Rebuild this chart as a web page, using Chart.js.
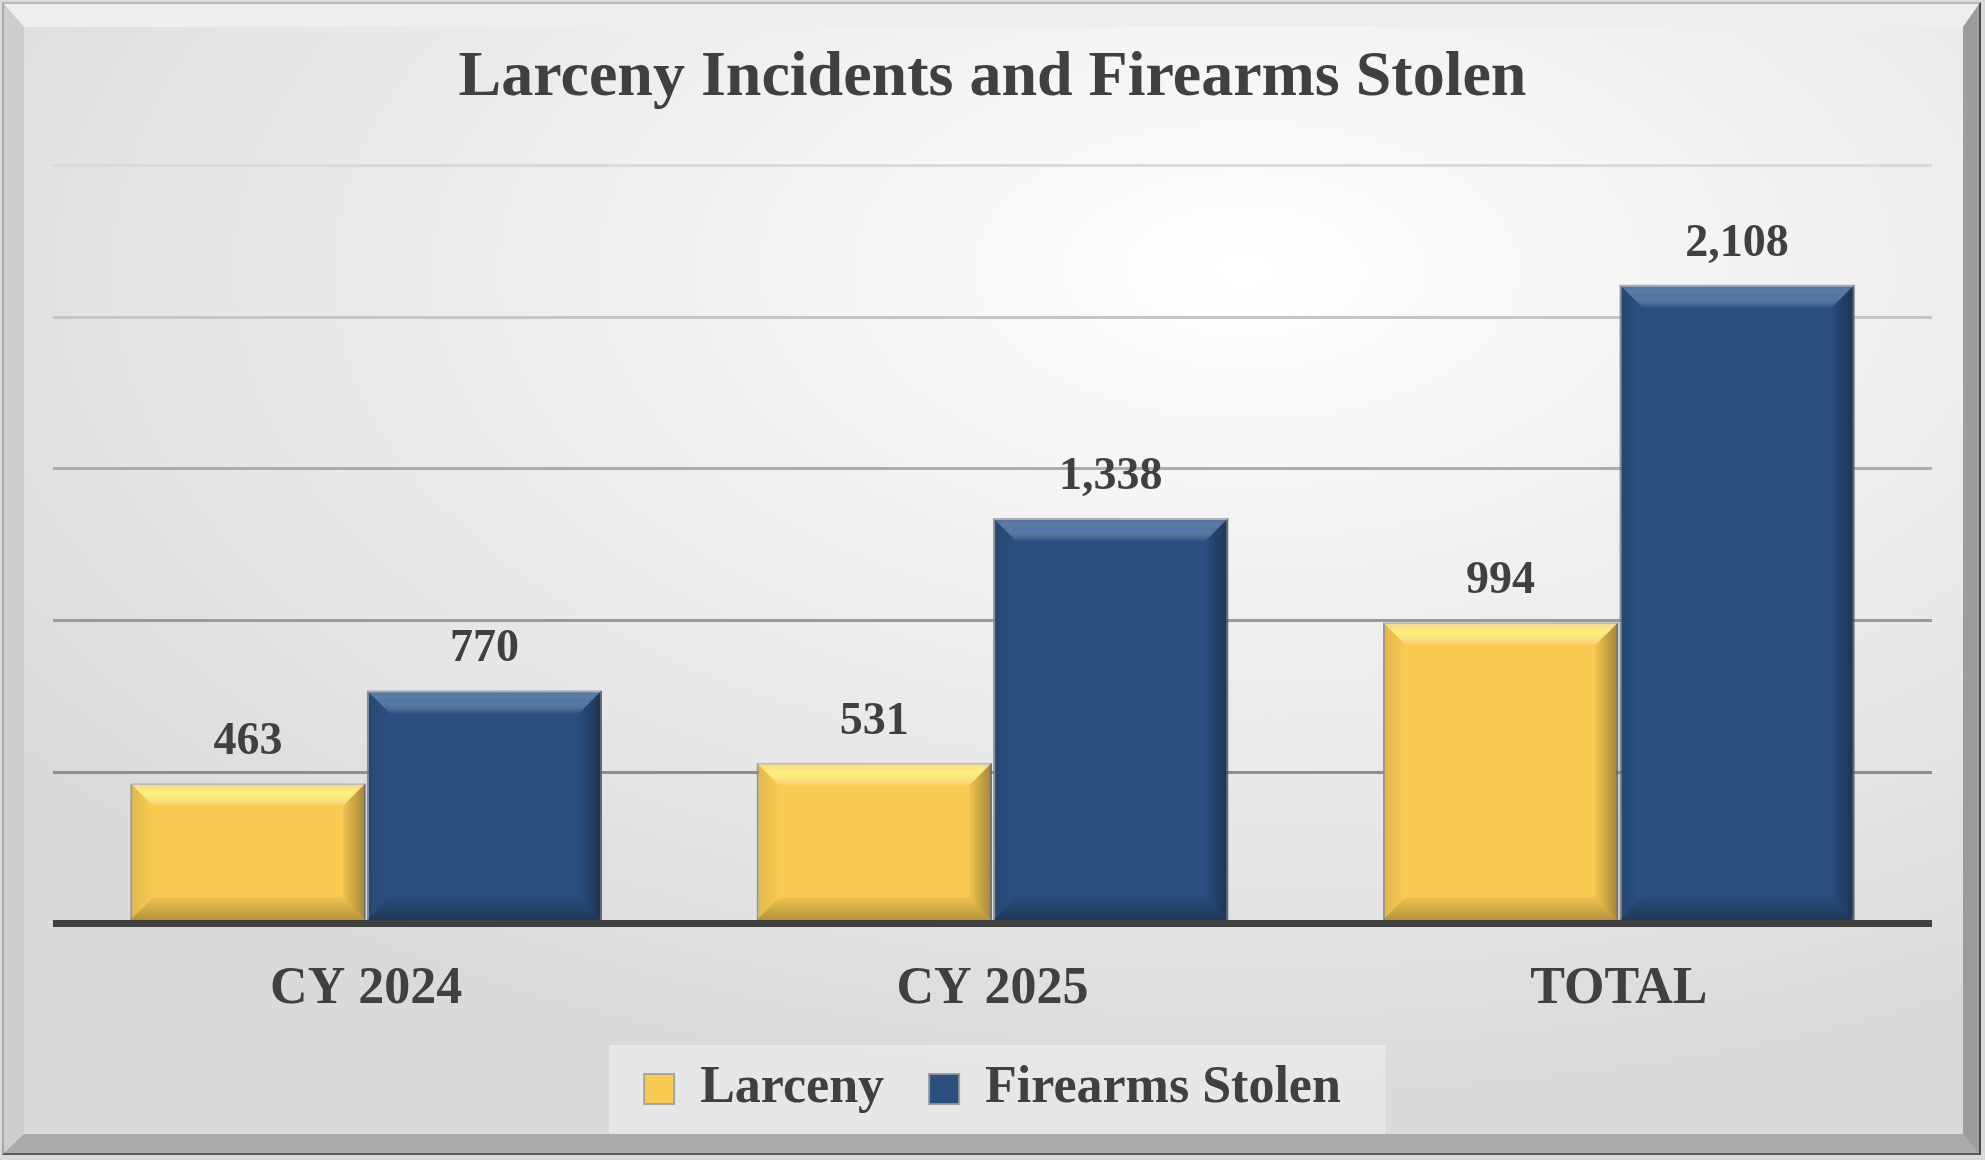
<!DOCTYPE html>
<html>
<head>
<meta charset="utf-8">
<script src="https://cdn.jsdelivr.net/npm/chart.js@4.4.1/dist/chart.umd.min.js"></script>
<style>
    html, body { margin: 0; padding: 0; background: #dadada; }
    #wrap { position: relative; width: 1985px; height: 1160px; overflow: hidden; }
    #frame {
        position: absolute; left: 2px; top: 2px; width: 1979px; height: 1153px;
        box-sizing: border-box; border: 2px solid; border-color: #b8b8b8 #4a4a4a #5a5a5a #a8a8a8;
    }
    #bevel {
        position: absolute; left: 0; top: 0; right: 0; bottom: 0; box-sizing: border-box;
        border-style: solid; border-width: 23px 16px 19px 20px;
        border-color: #eeeeee #9c9c9c #ababab #cdcdcd;
        background: radial-gradient(ellipse 78% 75% at 63% 22%, #ffffff 0%, #f2f2f2 35%, #e6e6e6 70%, #dadada 100%);
    }
    canvas { position: absolute; left: 0; top: 0; }
</style>
</head>
<body>
<div id="wrap">
    <div id="frame"><div id="bevel"></div></div>
    <canvas id="chart" width="1985" height="1160"></canvas>
</div>
<script>
    // ===== DATA =====
    const categories = ['CY 2024', 'CY 2025', 'TOTAL'];
    const larceny = [463, 531, 994];
    const firearmsStolen = [770, 1338, 2108];
    const seriesNames = ['Larceny', 'Firearms Stolen'];
    const yMax = 2500;
    const yStep = 500;

    const FONT = '"Liberation Serif", "Times New Roman", serif';
    const TEXT = '#404040';

    // grid colour per value: darker near the base, fading toward the top
    const gridColors = { 0: '#404040', 500: '#8e8e8e', 1000: '#9a9a9a', 1500: '#acacac', 2000: '#c6c6c6', 2500: '#dadada' };

    function poly(ctx, pts, fill) {
        ctx.beginPath();
        ctx.moveTo(pts[0][0], pts[0][1]);
        for (let i = 1; i < pts.length; i++) ctx.lineTo(pts[i][0], pts[i][1]);
        ctx.closePath();
        ctx.fillStyle = fill;
        ctx.fill();
    }

    /** Bevel shading on a rectangle (bar element) */
    function drawBevel(ctx, l, t, r, b, stripe, maxSize) {
        const s = Math.min(maxSize, (r - l) / 4, (b - t) / 3);
        let g = ctx.createLinearGradient(0, t, 0, t + s);
        g.addColorStop(0, 'rgba(255,255,255,0.15)');
        g.addColorStop(0.45, stripe);
        g.addColorStop(1, 'rgba(255,255,255,0.03)');
        poly(ctx, [[l, t], [r, t], [r - s, t + s], [l + s, t + s]], g);

        g = ctx.createLinearGradient(r - s, 0, r, 0);
        g.addColorStop(0, 'rgba(0,0,0,0.03)');
        g.addColorStop(1, 'rgba(0,0,0,0.35)');
        poly(ctx, [[r, t], [r, b], [r - s, b - s], [r - s, t + s]], g);

        g = ctx.createLinearGradient(0, b - s, 0, b);
        g.addColorStop(0, 'rgba(0,0,0,0.04)');
        g.addColorStop(1, 'rgba(0,0,0,0.28)');
        poly(ctx, [[l, b], [r, b], [r - s, b - s], [l + s, b - s]], g);

        g = ctx.createLinearGradient(l, 0, l + s, 0);
        g.addColorStop(0, 'rgba(0,0,0,0.10)');
        g.addColorStop(1, 'rgba(0,0,0,0.0)');
        poly(ctx, [[l, t], [l, b], [l + s, b - s], [l + s, t + s]], g);
    }

    const stripes = ['rgba(255,248,120,0.85)', 'rgba(110,150,200,0.55)'];

    const barBevel = {
        id: 'barBevel',
        afterDatasetsDraw(chart) {
            const ctx = chart.ctx;
            ctx.save();
            chart.data.datasets.forEach((ds, i) => {
                chart.getDatasetMeta(i).data.forEach(bar => {
                    drawBevel(ctx, bar.x - bar.width / 2, bar.y, bar.x + bar.width / 2, bar.base, stripes[i], 23);
                });
            });
            ctx.restore();
        }
    };

    const valueLabels = {
        id: 'valueLabels',
        afterDatasetsDraw(chart) {
            const ctx = chart.ctx;
            ctx.save();
            ctx.font = 'bold 46px ' + FONT;
            ctx.fillStyle = TEXT;
            ctx.textAlign = 'center';
            ctx.textBaseline = 'alphabetic';
            chart.data.datasets.forEach((ds, i) => {
                chart.getDatasetMeta(i).data.forEach((bar, j) => {
                    ctx.fillText(ds.data[j].toLocaleString('en-US'), bar.x, bar.y - 29);
                });
            });
            ctx.restore();
        }
    };

    const legendPanel = {
        id: 'legendPanel',
        beforeDraw(chart) {
            const boxes = chart.legend && chart.legend.legendHitBoxes;
            if (!boxes || !boxes.length) return;
            const first = boxes[0], last = boxes[boxes.length - 1];
            const ctx = chart.ctx;
            ctx.save();
            ctx.fillStyle = 'rgba(255,255,255,0.35)';
            ctx.fillRect(first.left - 35, first.top - 18,
                last.left + last.width + 45 - (first.left - 35), first.height + 37);
            ctx.restore();
        }
    };

    new Chart(document.getElementById('chart'), {
        type: 'bar',
        data: {
            labels: categories,
            datasets: [{
                label: seriesNames[0],
                data: larceny,
                backgroundColor: '#f9cb52',
                borderColor: 'rgba(160,160,160,0.9)',
                borderWidth: 2,
                categoryPercentage: 0.755,
                barPercentage: 0.995
            }, {
                label: seriesNames[1],
                data: firearmsStolen,
                backgroundColor: '#2a4f7f',
                borderColor: 'rgba(150,150,150,0.9)',
                borderWidth: 2,
                categoryPercentage: 0.755,
                barPercentage: 0.995
            }]
        },
        options: {
            responsive: false,
            animation: false,
            devicePixelRatio: 1,
            layout: { padding: { left: 53, right: 53, top: 20, bottom: 35 } },
            plugins: {
                title: {
                    display: true,
                    text: 'Larceny Incidents and Firearms Stolen',
                    color: TEXT,
                    font: { family: FONT, size: 64, weight: 'bold' },
                    padding: { top: 20, bottom: 49 }
                },
                legend: {
                    position: 'bottom',
                    labels: {
                        color: TEXT,
                        font: { family: FONT, size: 52, weight: 'bold' },
                        boxWidth: 30,
                        boxHeight: 30,
                        padding: 45
                    }
                },
                tooltip: { enabled: false }
            },
            scales: {
                x: {
                    grid: { display: false, drawTicks: false },
                    border: { display: false },
                    ticks: {
                        color: TEXT,
                        padding: 35,
                        font: { family: FONT, size: 52, weight: 'bold' }
                    },
                    afterFit: scale => { scale.height -= 38; }
                },
                y: {
                    min: 0,
                    max: yMax,
                    border: { display: false },
                    grid: {
                        drawTicks: false,
                        color: c => gridColors[c.tick.value] || '#bbbbbb',
                        lineWidth: c => c.tick.value === 0 ? 7 : 3
                    },
                    ticks: { display: false, stepSize: yStep }
                }
            }
        },
        plugins: [legendPanel, barBevel, valueLabels]
    });
</script>
</body>
</html>
